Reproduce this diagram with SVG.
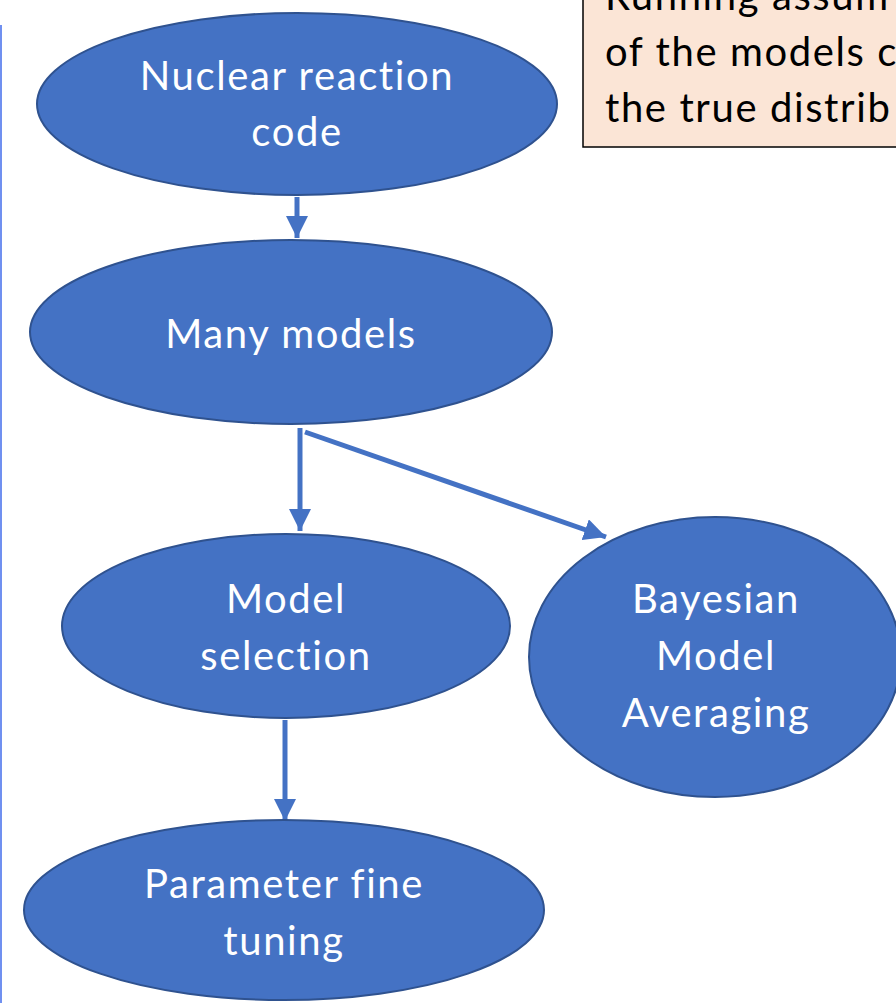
<svg xmlns="http://www.w3.org/2000/svg" width="896" height="1003" viewBox="0 0 896 1003">
<style>
.node ellipse{fill:#4472C4;stroke:#2F528F;stroke-width:2}
.node text{fill:#ffffff;font-family:Lato,"Open Sans","Liberation Sans",sans-serif;font-size:40px;letter-spacing:1.6px;font-variant-ligatures:none;text-anchor:middle}
.conn line{stroke:#4472C4;stroke-width:5}
.note text{fill:#000;font-family:Lato,"Open Sans","Liberation Sans",sans-serif;font-size:40px;letter-spacing:1.6px;font-variant-ligatures:none}
</style>
<defs>
<marker id="ah" markerUnits="userSpaceOnUse" markerWidth="22" markerHeight="22" viewBox="0 0 20 20" refX="20" refY="10" orient="auto">
<path d="M0,0 L20,10 L0,20 Z" fill="#4472C4"/>
</marker>
</defs>
<line x1="1" y1="25" x2="1" y2="1003" stroke="#7090F0" stroke-width="2"/>
<g id="note" class="note">
<rect x="583" y="-10" width="330" height="157" fill="#FBE5D6" stroke="#000" stroke-width="1.5"/>
<text x="605" y="10">Running assum</text>
<text x="605" y="66">of the models c</text>
<text x="605" y="122">the true distrib</text>
</g>
<g id="connectors" class="conn">
<line x1="297" y1="197" x2="297" y2="238" marker-end="url(#ah)"/>
<line x1="300" y1="428" x2="300" y2="531" marker-end="url(#ah)"/>
<line x1="305" y1="432" x2="606" y2="537" marker-end="url(#ah)"/>
<line x1="285" y1="720" x2="285" y2="821" marker-end="url(#ah)"/>
</g>
<g id="n1" class="node">
<ellipse cx="297" cy="104" rx="260" ry="91"/>
<text x="297" y="90">Nuclear reaction</text>
<text x="297" y="146">code</text>
</g>
<g id="n2" class="node">
<ellipse cx="291" cy="332" rx="261" ry="92"/>
<text x="291" y="348">Many models</text>
</g>
<g id="n3" class="node">
<ellipse cx="286" cy="626" rx="224" ry="92"/>
<text x="286" y="613">Model</text>
<text x="286" y="670">selection</text>
</g>
<g id="n4" class="node">
<ellipse cx="715" cy="657" rx="186" ry="140"/>
<text x="716" y="613">Bayesian</text>
<text x="716" y="670">Model</text>
<text x="716" y="727">Averaging</text>
</g>
<g id="n5" class="node">
<ellipse cx="284" cy="910" rx="260" ry="90"/>
<text x="284" y="898">Parameter fine</text>
<text x="284" y="955">tuning</text>
</g>
</svg>
